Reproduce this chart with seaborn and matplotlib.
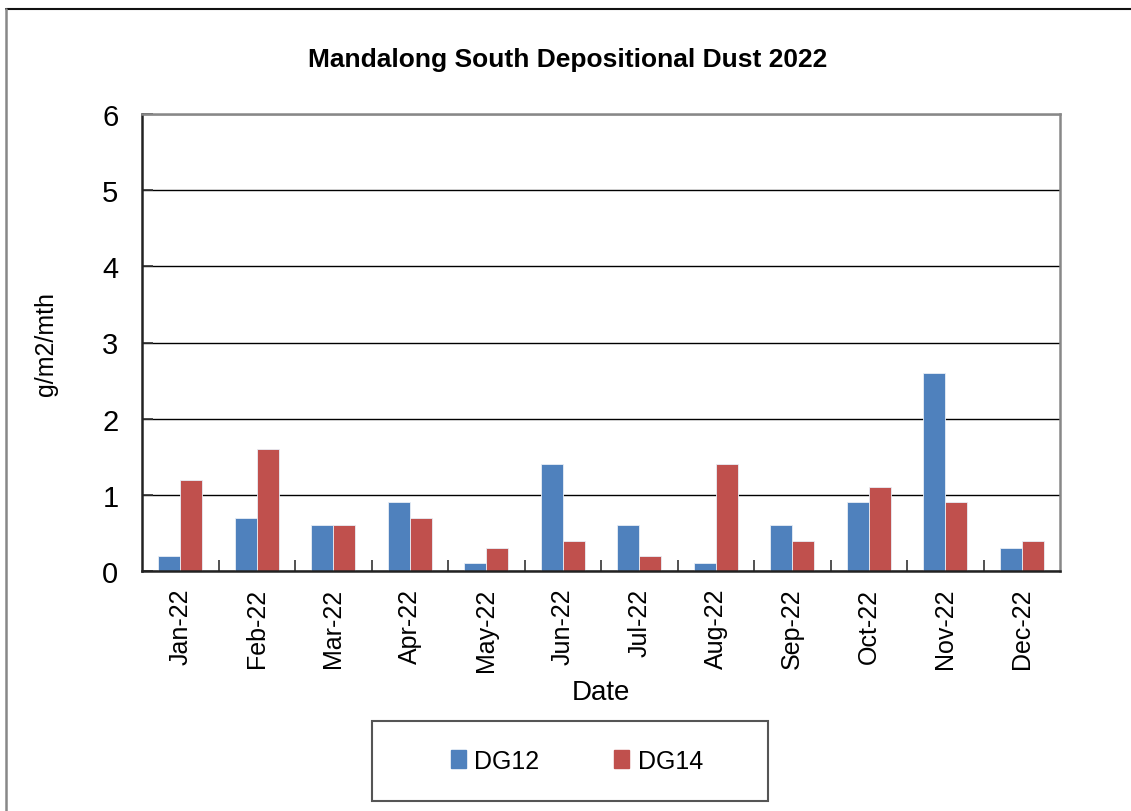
import matplotlib
matplotlib.use("Agg")
import matplotlib.pyplot as plt
import seaborn as sns
import pandas as pd
from matplotlib.lines import Line2D
from matplotlib.patches import Rectangle

months = ["Jan-22", "Feb-22", "Mar-22", "Apr-22", "May-22", "Jun-22",
          "Jul-22", "Aug-22", "Sep-22", "Oct-22", "Nov-22", "Dec-22"]
dg12 = [0.2, 0.7, 0.6, 0.9, 0.1, 1.4, 0.6, 0.1, 0.6, 0.9, 2.6, 0.3]
dg14 = [1.2, 1.6, 0.6, 0.7, 0.3, 0.4, 0.2, 1.4, 0.4, 1.1, 0.9, 0.4]
series_names = ["DG12", "DG14"]
colors = ["#4F81BD", "#C0504D"]
yticks = [0, 1, 2, 3, 4, 5, 6]

sns.set_style("white")
plt.rcParams["font.family"] = ["Liberation Sans", "DejaVu Sans"]
plt.rcParams.update({"text.color": "black", "axes.labelcolor": "black",
                     "xtick.color": "black", "ytick.color": "black"})

df = pd.DataFrame({
    "Date": months * 2,
    "value": dg12 + dg14,
    "series": [series_names[0]] * len(months) + [series_names[1]] * len(months),
})

fig = plt.figure(figsize=(11.31, 8.12), dpi=100)
ax = fig.add_axes([142 / 1131, 1 - 572 / 812, (1060 - 142) / 1131, (572 - 115) / 812])

sns.barplot(data=df, x="Date", y="value", hue="series", palette=colors,
            width=0.57, ax=ax, legend=False, saturation=1,
            edgecolor="#e8eef6", linewidth=0.6)

ax.set_ylim(0, 6)
ax.set_xlim(-0.5, len(months) - 0.5)
ax.set_yticks(yticks)
ax.set_yticklabels([str(t) for t in yticks], fontsize=21)
ax.set_xticks(range(len(months)))
ax.set_xticklabels(months, rotation=90, fontsize=18)
ax.tick_params(axis="x", which="major", bottom=True, length=0, pad=12)
ax.tick_params(axis="y", left=True, direction="in", length=8, width=1.2,
               color="#333333", pad=17)
ax.set_xticks([i + 0.5 for i in range(len(months) - 1)], minor=True)
ax.tick_params(axis="x", which="minor", bottom=True, direction="in", length=8,
               width=1.2, color="#333333")

ax.grid(axis="y", color="#000000", linewidth=1.0)
ax.set_axisbelow(True)
for side in ["left", "bottom"]:
    ax.spines[side].set_color("#222222")
    ax.spines[side].set_linewidth(1.8)
for side in ["right", "top"]:
    ax.spines[side].set_color("#888888")
    ax.spines[side].set_linewidth(1.8)

ax.set_xlabel("Date", fontsize=20, labelpad=6)
ax.set_ylabel("g/m2/mth", fontsize=18, labelpad=32)
fig.text(568 / 1131, 1 - 60 / 812, "Mandalong South Depositional Dust 2022",
         ha="center", va="center", fontsize=19, fontweight="bold")

# legend frame
fig.add_artist(Rectangle((372 / 1131, 1 - 802 / 812), 396 / 1131, 80 / 812,
                         transform=fig.transFigure, facecolor="white",
                         edgecolor="#555555", linewidth=1.5, zorder=1))
handles = [plt.Rectangle((0, 0), 1, 1, color=c) for c in colors]
leg = fig.legend(handles, series_names, loc="center",
                 bbox_to_anchor=(577 / 1131, 1 - 762 / 812), ncol=2,
                 fontsize=18, frameon=False,
                 handlelength=0.6, handleheight=0.75, handletextpad=0.35,
                 columnspacing=3.0, borderaxespad=0)
leg.set_zorder(2)

# outer chart border
fig.add_artist(Line2D([6 / 1131, 1.0], [1 - 9.5 / 812, 1 - 9.5 / 812],
                      transform=fig.transFigure, color="#111111", linewidth=1.5))
fig.add_artist(Line2D([6 / 1131, 6 / 1131], [0, 1 - 9.5 / 812],
                      transform=fig.transFigure, color="#888888", linewidth=1.8))

fig.savefig("out.png", dpi=100)
